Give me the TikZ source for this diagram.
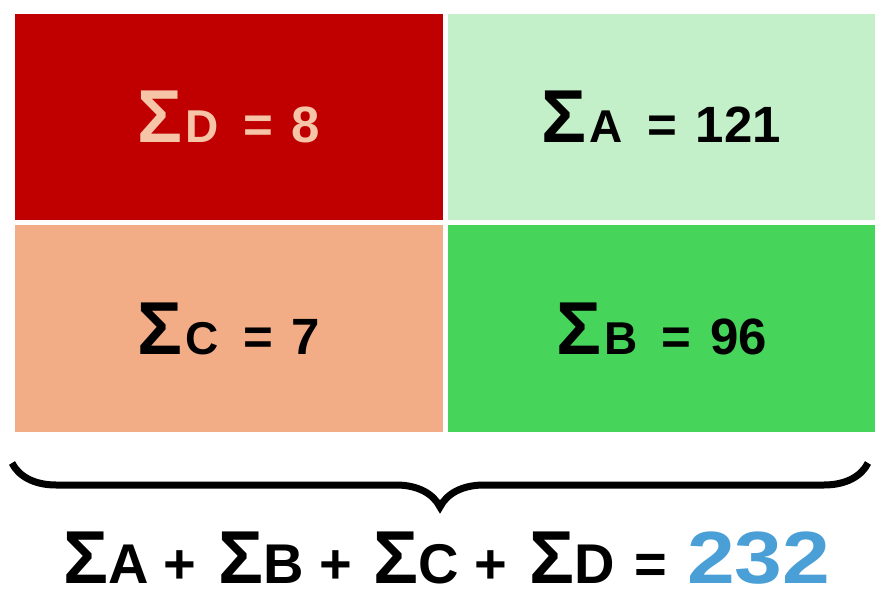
\documentclass[tikz,border=0pt]{standalone}
\usepackage{fontspec}
\setmainfont{Liberation Sans}
\newfontfamily\widesans[FakeStretch=1.16]{Liberation Sans}
\usetikzlibrary{
  decorations.pathreplacing,%
  positioning,
  calc
}
\definecolor{cellD}{HTML}{C00000}
\definecolor{cellA}{HTML}{C3EFC9}
\definecolor{cellC}{HTML}{F2AC86}
\definecolor{cellB}{HTML}{47D45A}
\definecolor{peach}{HTML}{F6C5A7}
\definecolor{total}{HTML}{4A9FD7}
\tikzset{>=latex}
\tikzset{cell/.style={minimum width=428pt, minimum height=206pt, inner sep=0pt,
    font=\bfseries\fontsize{51}{51}\selectfont}}
\newcommand{\bigsigma}{{\fontsize{75}{75}\selectfont Σ}}
% one sum inside a cell
\newcommand{\sumof}[2]{\bigsigma\hspace{3pt}{\fontsize{46}{46}\selectfont #1}\hspace{24pt}=\hspace{19pt}#2}
\newcommand{\plus}{\hspace{15pt}+\hspace{22pt}}

\begin{document}
\begin{tikzpicture}[x=1pt, y=1pt]
      \useasboundingbox (0, 0) rectangle (875, 590); %
      % the four sums
      \node[cell, fill=cellD, text=peach] (D) at (229, 473) {\sumof{D}{8}}; %
      \node[cell, fill=cellA, minimum width=427pt] (A) at (661.5, 473) {\sumof{A}{121}}; %
      \node[cell, fill=cellC] (C) at (229, 261.5) {\sumof{C}{7}}; %
      \node[cell, fill=cellB, minimum width=427pt] (B) at (661.5, 261.5) {\sumof{B}{96}}; %
      % brace below the table
      \coordinate (braceL) at (12, 127); \coordinate (braceR) at (868, 127);
      \draw[line width=7pt, decorate, decoration={brace, mirror, amplitude=44pt}]
        (braceL) -- (braceR); %
      \node[anchor=base, inner sep=0pt, font=\bfseries\fontsize{56}{56}\selectfont]
        (sum) at (447, 7)
        {\bigsigma A\plus\bigsigma B\plus\bigsigma C\plus\bigsigma D\hspace{20pt}=\hspace{20pt}%
         {\widesans\fontsize{74}{74}\selectfont\color{total}232}}; %
    \end{tikzpicture}
\end{document}
